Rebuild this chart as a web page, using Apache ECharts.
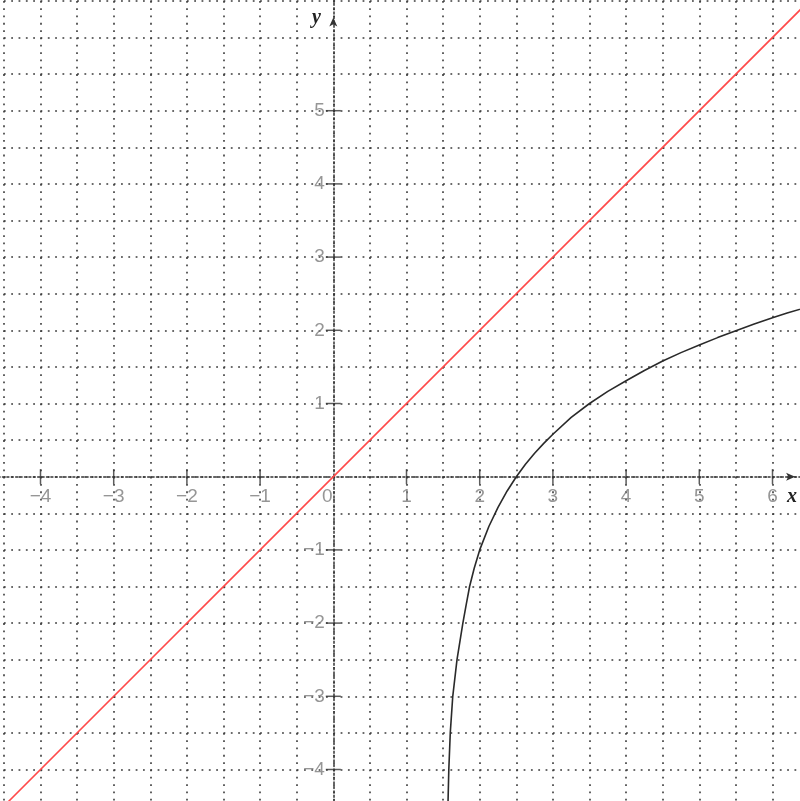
<!DOCTYPE html>
<html>
<head>
<meta charset="utf-8">
<script src="https://cdn.jsdelivr.net/npm/echarts@6/dist/echarts.min.js"></script>
<style>
  html, body { margin: 0; padding: 0; background: #fff; }
  #chart { width: 800px; height: 801px; }
</style>
</head>
<body>
<div id="chart"></div>
<script>
// Tick values shown on the axes
const xTickValues = [-4, -3, -2, -1, 1, 2, 3, 4, 5, 6];
const yTickValues = [-4, -3, -2, -1, 1, 2, 3, 4, 5];

// Straight line y = x (red), endpoints
const lineX = [-4.6, 6.6];
const lineY = [-4.6, 6.6];

// Logarithmic-looking curve (black)
const curveX = [1.566, 1.578, 1.598, 1.632, 1.69, 1.77, 1.815, 1.862, 1.925, 2.0, 2.125, 2.25, 2.375, 2.5, 2.625, 2.75, 2.875, 3.0, 3.25, 3.5, 3.75, 4.0, 4.25, 4.5, 4.75, 5.0, 5.25, 5.5, 5.75, 6.0, 6.2, 6.45];
const curveY = [-4.5, -4.0, -3.5, -3.0, -2.5, -2.0, -1.75, -1.5, -1.25, -1.0, -0.68, -0.42, -0.195, 0.0, 0.17, 0.32, 0.455, 0.58, 0.81, 1.0, 1.165, 1.31, 1.45, 1.58, 1.695, 1.80, 1.90, 1.995, 2.085, 2.17, 2.235, 2.31];

const zip = (xs, ys) => xs.map((x, i) => [x, ys[i]]);

// Plot scale: one unit = 73.2 px, origin at (333.3, 476.7)
const UNIT = 73.2, OX = 333.3, OY = 476.7, W = 800, H = 801;
const X_MIN = -5, X_MAX = 6.5, Y_MIN = -4.5, Y_MAX = 6.6;

const minus = v => (v < 0 ? '\u2212' + (-v) : String(v));
const dotted = { color: '#3a3a3a', width: 1.6, type: [1.8, 5.52], dashOffset: 0 };
const labelFont = { color: '#7c7c7c', fontSize: 19, fontFamily: 'Liberation Sans' };

const chart = echarts.init(document.getElementById('chart'), null, { renderer: 'canvas' });
chart.setOption({
  animation: false,
  backgroundColor: '#fff',
  grid: {
    left: OX + X_MIN * UNIT,
    right: W - (OX + X_MAX * UNIT),
    top: OY - Y_MAX * UNIT,
    bottom: H - (OY - Y_MIN * UNIT),
    containLabel: false,
    outerBoundsMode: 'none'
  },
  xAxis: {
    type: 'value', min: X_MIN, max: X_MAX, interval: 0.5,
    axisLine: { onZero: true, lineStyle: { color: '#333', width: 1.5, type: [2, 2.4] },
                symbol: ['none', 'arrow'], symbolSize: [6, 9], symbolOffset: [0, -14] },
    axisTick: { show: false },
    axisLabel: { show: false },
    splitLine: { show: true, lineStyle: dotted }
  },
  yAxis: {
    type: 'value', min: Y_MIN, max: Y_MAX, interval: 0.5,
    axisLine: { onZero: true, lineStyle: { color: '#333', width: 1.5, type: [2, 2.4] },
                symbol: ['none', 'arrow'], symbolSize: [6, 9], symbolOffset: [0, -24] },
    axisTick: { show: false },
    axisLabel: { show: false },
    splitLine: { show: true, lineStyle: dotted }
  },
  graphic: [
    { type: 'text', left: 312, top: 8, silent: true,
      style: { text: 'y', fill: '#222', font: 'italic bold 20px "Liberation Serif"' } },
    { type: 'text', left: 787, top: 487, silent: true,
      style: { text: 'x', fill: '#222', font: 'italic bold 20px "Liberation Serif"' } }
  ],
  series: [
    {
      // x-axis ticks with their numbers
      type: 'scatter', silent: true, symbol: 'rect', symbolSize: [1.5, 15],
      itemStyle: { color: '#333' },
      label: { show: true, position: 'bottom', distance: 3, ...labelFont,
               formatter: p => minus(p.value[0]) },
      data: xTickValues.map(v => [v, 0]), z: 3
    },
    {
      // y-axis ticks with their numbers
      type: 'scatter', silent: true, symbol: 'rect', symbolSize: [15, 1.5],
      itemStyle: { color: '#333' },
      label: { show: true, position: 'left', distance: 1, ...labelFont,
               formatter: p => minus(p.value[1]) },
      data: yTickValues.map(v => [0, v]), z: 3
    },
    {
      // origin label
      type: 'scatter', silent: true, symbol: 'rect', symbolSize: [1, 15],
      itemStyle: { color: 'rgba(0,0,0,0)' },
      label: { show: true, position: 'bottom', distance: 3, offset: [-6, 0], ...labelFont,
               formatter: '0' },
      data: [[0, 0]], z: 3
    },
    {
      type: 'line', silent: true, symbol: 'none',
      lineStyle: { color: '#ff4a4a', width: 1.6 },
      data: zip(lineX, lineY), z: 4
    },
    {
      type: 'line', silent: true, symbol: 'none', smooth: false,
      lineStyle: { color: '#2a2a2a', width: 1.6 },
      data: zip(curveX, curveY), z: 4
    }
  ]
});
</script>
</body>
</html>
